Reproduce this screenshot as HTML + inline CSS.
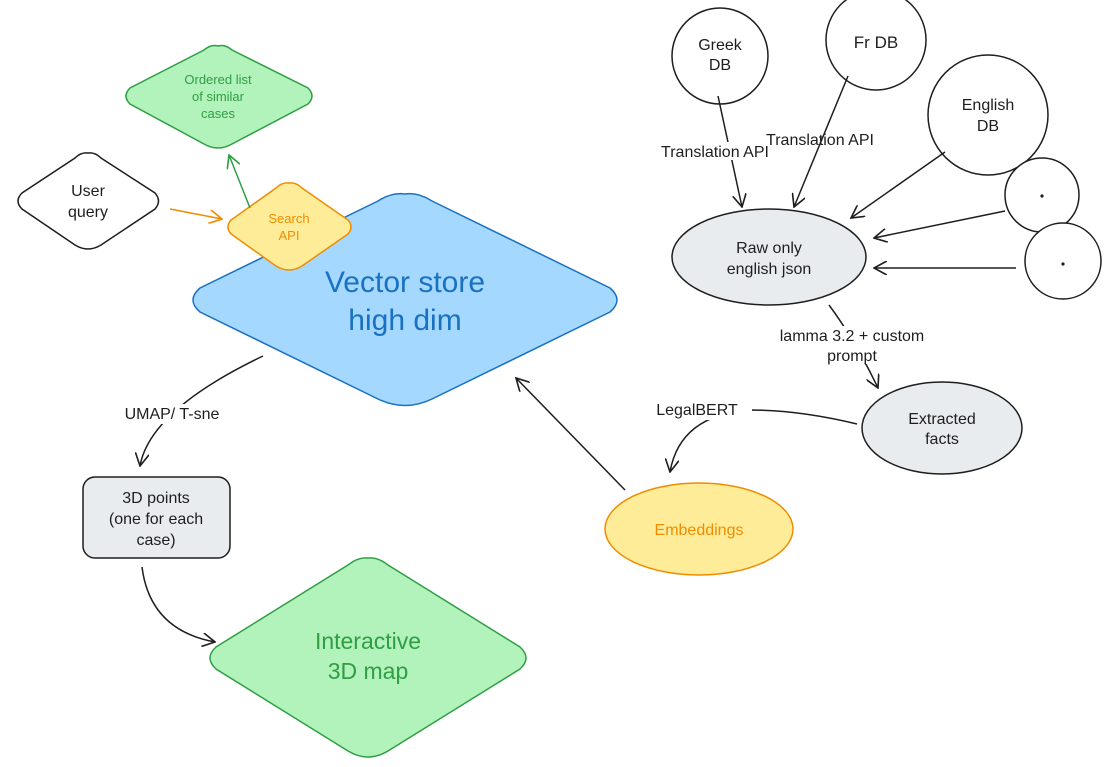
<!DOCTYPE html>
<html><head><meta charset="utf-8"><style>
html,body{margin:0;padding:0;background:#fff;}
svg{display:block;}
text{font-family:"Liberation Sans",sans-serif;}
</style></head><body>
<svg width="1109" height="767" viewBox="0 0 1109 767" xmlns="http://www.w3.org/2000/svg">
<defs>
<marker id="ak" viewBox="0 0 12 12" refX="11" refY="6" markerWidth="14" markerHeight="14" orient="auto" markerUnits="userSpaceOnUse"><path d="M0,0 L11,6 L0,12" fill="none" stroke="#1e1e1e" stroke-width="1.4"/></marker>
<marker id="ao" viewBox="0 0 12 12" refX="11" refY="6" markerWidth="14" markerHeight="14" orient="auto" markerUnits="userSpaceOnUse"><path d="M0,0 L11,6 L0,12" fill="none" stroke="#f08c00" stroke-width="1.4"/></marker>
<marker id="ag" viewBox="0 0 12 12" refX="11" refY="6" markerWidth="14" markerHeight="14" orient="auto" markerUnits="userSpaceOnUse"><path d="M0,0 L11,6 L0,12" fill="none" stroke="#2f9e44" stroke-width="1.4"/></marker>
</defs>

<path d="M218,46 Q225,44 232,50 L308,88 Q316,96 308,104 L232,144 Q218,152 204,144 L130,104 Q122,96 130,88 L204,50 Q211,44 218,46Z" fill="#b2f2bb" stroke="#2f9e44" stroke-width="1.5"/>
<text x="218" y="84" font-size="13" fill="#2f9e44" text-anchor="middle">Ordered list</text>
<text x="218" y="101" font-size="13" fill="#2f9e44" text-anchor="middle">of similar</text>
<text x="218" y="118" font-size="13" fill="#2f9e44" text-anchor="middle">cases</text>

<path d="M88,153 Q95,152 101,158 L155,193 Q162,201 155,209 L101,245 Q88,253 75,245 L22,209 Q14,201 22,193 L75,158 Q81,152 88,153Z" fill="#fff" stroke="#1e1e1e" stroke-width="1.5"/>
<text x="88" y="196" font-size="16" fill="#1e1e1e" text-anchor="middle">User</text>
<text x="88" y="217" font-size="16" fill="#1e1e1e" text-anchor="middle">query</text>

<path d="M405,194 Q418,192 432,201 L610,288 Q624,300 610,312 L432,399 Q405,412 378,399 L200,312 Q186,300 200,288 L378,201 Q392,192 405,194Z" fill="#a5d8ff" stroke="#1971c2" stroke-width="1.5"/>
<text x="405" y="292" font-size="30" fill="#1971c2" text-anchor="middle">Vector store</text>
<text x="405" y="330" font-size="30" fill="#1971c2" text-anchor="middle">high dim</text>

<path d="M289,183 Q296,182 302,188 L348,220 Q354,227 348,234 L302,266 Q289,274 276,266 L231,234 Q225,227 231,220 L276,188 Q282,182 289,183Z" fill="#ffec99" stroke="#f08c00" stroke-width="1.5"/>
<text x="289" y="223" font-size="13" fill="#f08c00" text-anchor="middle">Search</text>
<text x="289" y="240" font-size="13" fill="#f08c00" text-anchor="middle">API</text>

<rect x="83" y="477" width="147" height="81" rx="12" fill="#e9ecef" stroke="#1e1e1e" stroke-width="1.5"/>
<text x="156" y="503" font-size="16" fill="#1e1e1e" text-anchor="middle">3D points</text>
<text x="156" y="524" font-size="16" fill="#1e1e1e" text-anchor="middle">(one for each</text>
<text x="156" y="545" font-size="16" fill="#1e1e1e" text-anchor="middle">case)</text>

<path d="M368,558 Q378,557 388,565 L520,647 Q532,658 520,669 L388,751 Q368,763 348,751 L216,669 Q204,658 216,647 L348,565 Q358,557 368,558Z" fill="#b2f2bb" stroke="#2f9e44" stroke-width="1.5"/>
<text x="368" y="649" font-size="23" fill="#2f9e44" text-anchor="middle">Interactive</text>
<text x="368" y="679" font-size="23" fill="#2f9e44" text-anchor="middle">3D map</text>

<ellipse cx="699" cy="529" rx="94" ry="46" fill="#ffec99" stroke="#f08c00" stroke-width="1.5"/>
<text x="699" y="535" font-size="16" fill="#f08c00" text-anchor="middle">Embeddings</text>

<ellipse cx="942" cy="428" rx="80" ry="46" fill="#e9ecef" stroke="#1e1e1e" stroke-width="1.5"/>
<text x="942" y="424" font-size="16" fill="#1e1e1e" text-anchor="middle">Extracted</text>
<text x="942" y="444" font-size="16" fill="#1e1e1e" text-anchor="middle">facts</text>

<ellipse cx="769" cy="257" rx="97" ry="48" fill="#e9ecef" stroke="#1e1e1e" stroke-width="1.5"/>
<text x="769" y="253" font-size="16" fill="#1e1e1e" text-anchor="middle">Raw only</text>
<text x="769" y="274" font-size="16" fill="#1e1e1e" text-anchor="middle">english json</text>

<circle cx="720" cy="56" r="48" fill="#fff" stroke="#1e1e1e" stroke-width="1.5"/>
<text x="720" y="50" font-size="16" fill="#1e1e1e" text-anchor="middle">Greek</text>
<text x="720" y="70" font-size="16" fill="#1e1e1e" text-anchor="middle">DB</text>
<circle cx="876" cy="40" r="50" fill="#fff" stroke="#1e1e1e" stroke-width="1.5"/>
<text x="876" y="48" font-size="17" fill="#1e1e1e" text-anchor="middle">Fr DB</text>
<circle cx="988" cy="115" r="60" fill="#fff" stroke="#1e1e1e" stroke-width="1.5"/>
<text x="988" y="110" font-size="16" fill="#1e1e1e" text-anchor="middle">English</text>
<text x="988" y="131" font-size="16" fill="#1e1e1e" text-anchor="middle">DB</text>
<circle cx="1042" cy="195" r="37" fill="#fff" stroke="#1e1e1e" stroke-width="1.5"/>
<circle cx="1042" cy="196" r="1.6" fill="#1e1e1e"/>
<circle cx="1063" cy="261" r="38" fill="#fff" stroke="#1e1e1e" stroke-width="1.5"/>
<circle cx="1063" cy="264" r="1.6" fill="#1e1e1e"/>

<g fill="none" stroke="#1e1e1e" stroke-width="1.5">
<path d="M718,96 L742,207" marker-end="url(#ak)"/>
<path d="M848,76 L794,207" marker-end="url(#ak)"/>
<path d="M945,152 L851,218" marker-end="url(#ak)"/>
<path d="M1005,211 L874,238" marker-end="url(#ak)"/>
<path d="M1016,268 L874,268" marker-end="url(#ak)"/>
<path d="M829,305 Q855,340 878,388" marker-end="url(#ak)"/>
<path d="M857,424 Q800,410 750,410 Q680,415 670,472" marker-end="url(#ak)"/>
<path d="M625,490 L516,378" marker-end="url(#ak)"/>
<path d="M263,356 Q150,410 140,466" marker-end="url(#ak)"/>
<path d="M142,567 Q150,630 215,642" marker-end="url(#ak)"/>
</g>
<path d="M170,209 L222,219" fill="none" stroke="#f08c00" stroke-width="1.5" marker-end="url(#ao)"/>
<path d="M250,208 L229,155" fill="none" stroke="#2f9e44" stroke-width="1.5" marker-end="url(#ag)"/>

<rect x="652" y="142" width="126" height="18" fill="#fff"/>
<text x="715" y="157" font-size="16" fill="#1e1e1e" text-anchor="middle">Translation API</text>
<text x="820" y="145" font-size="16" fill="#1e1e1e" text-anchor="middle">Translation API</text>
<rect x="760" y="326" width="186" height="38" fill="#fff"/>
<text x="852" y="341" font-size="16" fill="#1e1e1e" text-anchor="middle">lamma 3.2 + custom</text>
<text x="852" y="361" font-size="16" fill="#1e1e1e" text-anchor="middle">prompt</text>
<rect x="642" y="400" width="110" height="20" fill="#fff"/>
<text x="697" y="415" font-size="16" fill="#1e1e1e" text-anchor="middle">LegalBERT</text>
<rect x="106" y="404" width="132" height="20" fill="#fff"/>
<text x="172" y="419" font-size="16" fill="#1e1e1e" text-anchor="middle">UMAP/ T-sne</text>
</svg>
</body></html>
